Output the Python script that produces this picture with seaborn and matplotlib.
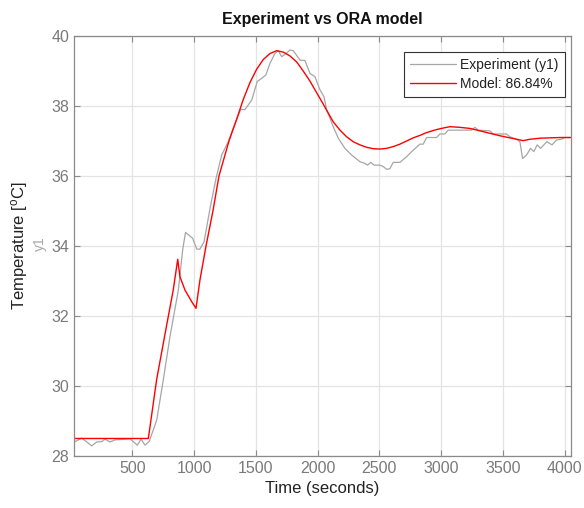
import numpy as np
import pandas as pd
import matplotlib
matplotlib.use("Agg")
import matplotlib.pyplot as plt
import seaborn as sns

# ---- data ----
exp_time = [36, 91, 172, 212, 253, 279, 320, 360, 482, 541, 571, 603, 638, 698, 751, 805,
            873, 908, 931, 989, 1022, 1048, 1081, 1132, 1178, 1224, 1277, 1332, 1378, 1413,
            1467, 1512, 1548, 1582, 1615, 1655, 1682, 1710, 1744, 1777, 1804, 1858, 1898,
            1939, 1979, 2020, 2052, 2074, 2127, 2168, 2222, 2276, 2343, 2384, 2406, 2430,
            2459, 2505, 2532, 2560, 2586, 2613, 2667, 2721, 2775, 2829, 2856, 2883, 2964,
            2991, 3031, 3058, 3247, 3274, 3301, 3396, 3423, 3531, 3558, 3612, 3639, 3660,
            3693, 3724, 3752, 3779, 3806, 3857, 3899, 3936, 3976, 4003, 4043]
exp_temp = [28.41, 28.51, 28.29, 28.40, 28.41, 28.48, 28.40, 28.46, 28.49, 28.31, 28.48, 28.31,
            28.42, 29.03, 30.17, 31.41, 32.74, 33.89, 34.39, 34.22, 33.91, 33.91, 34.12, 35.12,
            35.93, 36.60, 36.98, 37.50, 37.90, 37.90, 38.17, 38.70, 38.79, 38.89, 39.22, 39.50,
            39.58, 39.41, 39.50, 39.60, 39.58, 39.31, 39.30, 38.93, 38.84, 38.46, 38.27, 37.89,
            37.41, 37.08, 36.79, 36.60, 36.41, 36.36, 36.31, 36.39, 36.31, 36.31, 36.27, 36.19,
            36.21, 36.39, 36.39, 36.55, 36.74, 36.91, 36.91, 37.10, 37.10, 37.20, 37.20, 37.31,
            37.31, 37.39, 37.31, 37.29, 37.20, 37.20, 37.12, 37.05, 36.98, 36.50, 36.60, 36.79,
            36.70, 36.89, 36.79, 36.98, 36.89, 37.03, 37.05, 37.10, 37.10]

model_time = [28, 630, 698, 779, 832, 868, 886, 927, 981, 1016, 1048, 1097, 1153, 1202, 1283,
              1345, 1399, 1453, 1507, 1561, 1615, 1669, 1723, 1777, 1831, 1884, 1939, 1993,
              2047, 2101, 2127, 2182, 2236, 2289, 2343, 2398, 2452, 2505, 2560, 2613, 2667,
              2721, 2775, 2829, 2883, 2937, 2991, 3072, 3153, 3234, 3315, 3396, 3477, 3558,
              3639, 3665, 3720, 3801, 3882, 3963, 4050]
model_temp = [28.50, 28.50, 30.20, 31.75, 32.75, 33.62, 33.12, 32.74, 32.41, 32.22, 33.03, 34.00,
              35.00, 36.00, 37.00, 37.62, 38.19, 38.67, 39.05, 39.33, 39.50, 39.58, 39.54, 39.43,
              39.26, 39.00, 38.71, 38.38, 38.05, 37.71, 37.55, 37.31, 37.12, 36.98, 36.89, 36.82,
              36.78, 36.77, 36.79, 36.84, 36.91, 37.00, 37.09, 37.16, 37.24, 37.30, 37.35, 37.41,
              37.39, 37.36, 37.29, 37.22, 37.15, 37.09, 37.03, 37.01, 37.05, 37.08, 37.09, 37.10,
              37.10]

labels = ["Experiment (y1)", "Model: 86.84%"]
x_ticks = [500, 1000, 1500, 2000, 2500, 3000, 3500, 4000]
y_ticks = [28, 30, 32, 34, 36, 38, 40]

df = pd.concat([
    pd.DataFrame({"t": exp_time, "T": exp_temp, "series": labels[0]}),
    pd.DataFrame({"t": model_time, "T": model_temp, "series": labels[1]}),
], ignore_index=True)

sns.set_theme(style="whitegrid")
plt.rcParams["font.family"] = ["Liberation Sans", "DejaVu Sans"]

fig = plt.figure(figsize=(5.84, 5.08), dpi=100)
ax = fig.add_axes([0.1267, 0.1024, 0.8505, 0.8267])

tick_gray = "#7a7a7a"
sns.lineplot(data=df[df.series == labels[0]], x="t", y="T", ax=ax, color="#a6a6a6",
             linewidth=0.9, label=labels[0], estimator=None, sort=False)
sns.lineplot(data=df[df.series == labels[1]], x="t", y="T", ax=ax, color="#ff0000",
             linewidth=1.0, label=labels[1], estimator=None, sort=False)

ax.set_xlim(28, 4050)
ax.set_ylim(28, 40)
ax.set_xticks(x_ticks)
ax.set_yticks(y_ticks)
ax.grid(True, color="#e4e4e4", linewidth=0.9)
ax.set_facecolor("white")
for s in ax.spines.values():
    s.set_visible(True)
    s.set_color("#8a8a8a")
    s.set_linewidth(0.9)

ax.tick_params(axis="both", which="both", direction="in", length=4, width=0.8,
               colors="#8a8a8a", labelcolor=tick_gray, labelsize=11.5,
               top=True, right=True, bottom=True, left=True)

ax.set_xlabel("Time (seconds)", fontsize=12, color="#222222", labelpad=4)
ax.set_ylabel("Temperature [$\\mathregular{^oC}$]", fontsize=12, color="#222222", labelpad=15)
ax.text(-0.068, 0.505, "y1", transform=ax.transAxes, rotation=90, fontsize=10,
        color="#a8a8a8", ha="center", va="center")
ax.set_title("Experiment vs ORA model", fontsize=11.5, fontweight="bold", color="#111111", pad=9)

leg = ax.legend(loc="upper right", bbox_to_anchor=(0.988, 0.962), fontsize=10,
                frameon=True, fancybox=False, borderpad=0.45, handlelength=3.3,
                handletextpad=0.3, labelspacing=0.35, borderaxespad=0.0)
leg.get_frame().set_edgecolor("#333333")
leg.get_frame().set_linewidth(0.8)
leg.get_frame().set_alpha(1)
for t in leg.get_texts():
    t.set_color("#222222")

fig.savefig("out.png", dpi=100)
